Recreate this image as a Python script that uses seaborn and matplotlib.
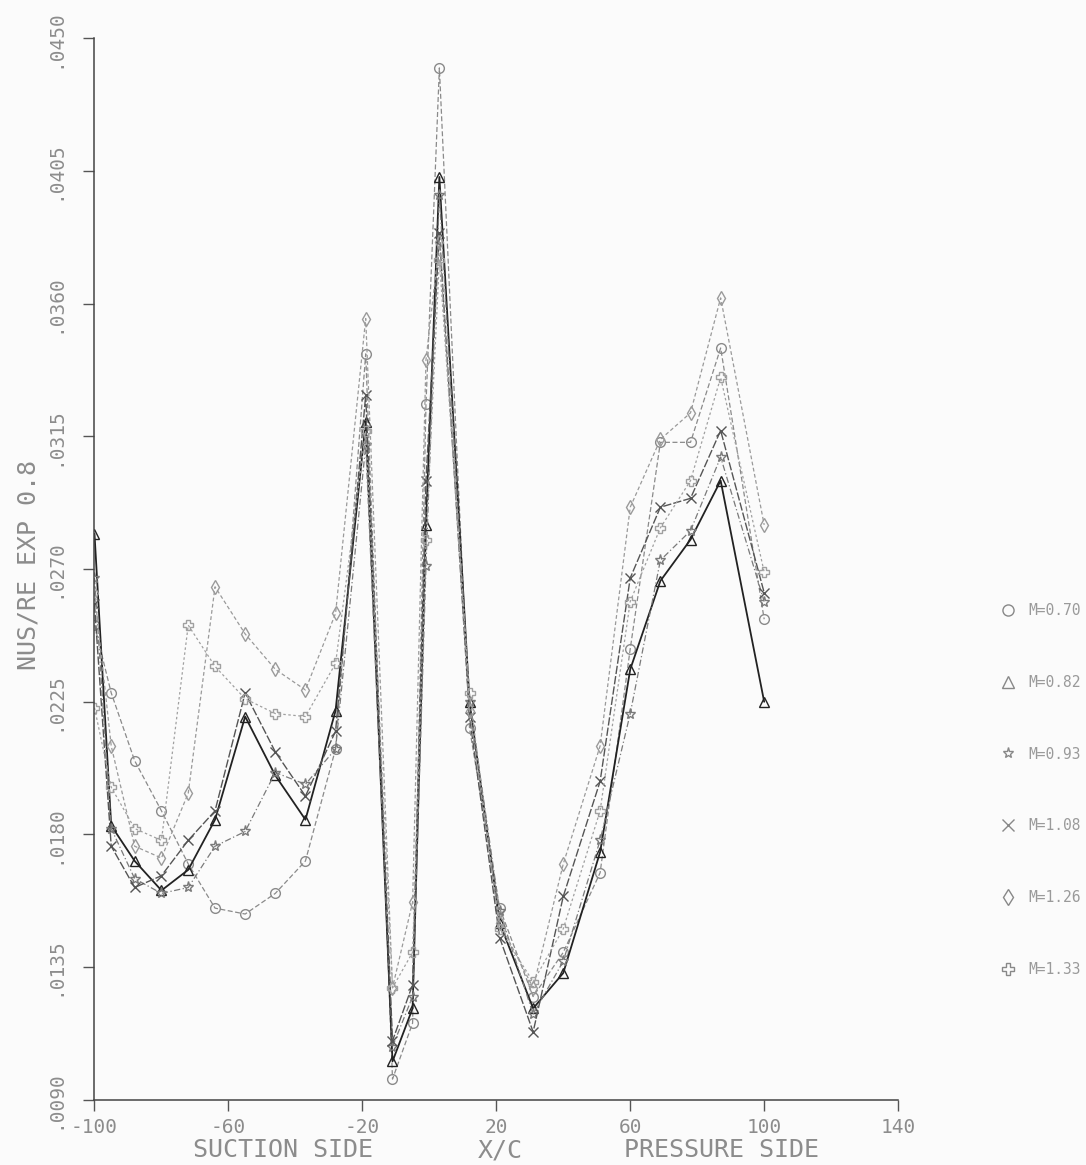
import numpy as np
import pandas as pd
import matplotlib
matplotlib.use("Agg")
import matplotlib.pyplot as plt
import seaborn as sns
from matplotlib.lines import Line2D

# ---------------- data ----------------
x_stations = [-100, -95, -88, -80, -72, -64, -55, -46, -37, -28, -19, -11, -5, -1, 3,
              12, 21, 31, 40, 51, 60, 69, 78, 87, 100]

m070 = [0.0251, 0.0228, 0.0205, 0.0188, 0.0170, 0.0155, 0.0153, 0.0160, 0.0171, 0.0209, 0.0343,
        0.0097, 0.0116, 0.0326, 0.0440, 0.0216, 0.0155, 0.0125, 0.0140, 0.0167, 0.0243, 0.0313,
        0.0313, 0.0345, 0.0253]
m082 = [0.0282, 0.0183, 0.0171, 0.0161, 0.0168, 0.0185, 0.0220, 0.0200, 0.0185, 0.0222, 0.0320,
        0.0103, 0.0121, 0.0285, 0.0403, 0.0225, 0.0150, 0.0121, 0.0133, 0.0174, 0.0236, 0.0266,
        0.0280, 0.0300, 0.0225]
m093 = [0.0267, 0.0182, 0.0165, 0.0160, 0.0162, 0.0176, 0.0181, 0.0201, 0.0197, 0.0209, 0.0312,
        0.0108, 0.0125, 0.0271, 0.0397, 0.0225, 0.0154, 0.0119, 0.0137, 0.0178, 0.0221, 0.0273,
        0.0283, 0.0308, 0.0259]
m108 = [0.0258, 0.0176, 0.0162, 0.0166, 0.0178, 0.0188, 0.0228, 0.0208, 0.0193, 0.0215, 0.0329,
        0.0110, 0.0129, 0.0300, 0.0384, 0.0220, 0.0145, 0.0113, 0.0159, 0.0198, 0.0267, 0.0291,
        0.0294, 0.0317, 0.0262]
m126 = [0.0262, 0.0210, 0.0176, 0.0172, 0.0194, 0.0264, 0.0248, 0.0236, 0.0229, 0.0255, 0.0355,
        0.0128, 0.0157, 0.0341, 0.0381, 0.0222, 0.0150, 0.0128, 0.0170, 0.0210, 0.0291, 0.0314,
        0.0323, 0.0362, 0.0285]
m133 = [0.0223, 0.0196, 0.0182, 0.0178, 0.0251, 0.0237, 0.0226, 0.0221, 0.0220, 0.0238, 0.0317,
        0.0128, 0.0140, 0.0280, 0.0375, 0.0228, 0.0148, 0.0130, 0.0148, 0.0188, 0.0259, 0.0284,
        0.0300, 0.0335, 0.0269]

labels = ["M=0.70", "M=0.82", "M=0.93", "M=1.08", "M=1.26", "M=1.33"]
series = [m070, m082, m093, m108, m126, m133]

x_ticks = [-100, -60, -20, 20, 60, 100, 140]
y_ticks = [0.0090, 0.0135, 0.0180, 0.0225, 0.0270, 0.0315, 0.0360, 0.0405, 0.0450]
y_tick_labels = [".0090", ".0135", ".0180", ".0225", ".0270", ".0315", ".0360", ".0405", ".0450"]

# ---------------- style ----------------
sns.set_style("white")
plt.rcParams['font.family'] = ['DejaVu Sans Mono', 'DejaVu Sans']

markers = ['o', '^', '*', 'x', 'd', 'P']
colors = ['#8a8a8a', '#222222', '#7a7a7a', '#555555', '#9a9a9a', '#a0a0a0']
dashes = [(0, (4, 2)), '-', (0, (5, 2, 1, 2)), (0, (6, 1.5)), (0, (3, 2)), (0, (2, 2))]
widths = [0.9, 1.3, 0.9, 1.0, 0.9, 0.9]

fig = plt.figure(figsize=(10.86, 11.65), dpi=100, facecolor='#fbfbfb')
ax = fig.add_axes([0.087, 0.056, 0.740, 0.911])
ax.set_facecolor('#fbfbfb')

df = pd.DataFrame({
    'x': np.tile(x_stations, len(series)),
    'y': np.concatenate(series),
    'M': np.repeat(labels, len(x_stations)),
})

for i, lab in enumerate(labels):
    sub = df[df['M'] == lab]
    sns.lineplot(data=sub, x='x', y='y', ax=ax, estimator=None, sort=False,
                 color=colors[i], linewidth=widths[i], linestyle=dashes[i],
                 marker=markers[i], markersize=7 if markers[i] != '*' else 8,
                 markerfacecolor='none', markeredgecolor=colors[i],
                 markeredgewidth=1.0, legend=False)

ax.set_xlim(-100, 140)
ax.set_ylim(0.0090, 0.0450)
ax.set_xticks(x_ticks)
ax.set_xticklabels([str(v) for v in x_ticks], fontsize=14, color='#8c8c8c')
ax.set_yticks(y_ticks)
ax.set_yticklabels(y_tick_labels, fontsize=14, color='#8c8c8c', rotation=90, va='center')
ax.tick_params(axis='both', direction='out', length=8, width=1, color='#555555',
               left=True, bottom=True)
ax.tick_params(axis='x', pad=5)
ax.tick_params(axis='y', pad=14)
for s in ['top', 'right']:
    ax.spines[s].set_visible(False)
for s in ['left', 'bottom']:
    ax.spines[s].set_color('#444444')
    ax.spines[s].set_linewidth(1.1)
ax.set_xlabel('')
ax.set_ylabel('')

# axis titles
fig.text(29 / 1086, 1 - 565 / 1165, "NUS/RE EXP 0.8", rotation=90, ha='center', va='center',
         fontsize=18, color='#8c8c8c')
fig.text(283 / 1086, 1 - 1150 / 1165, "SUCTION SIDE", ha='center', va='center',
         fontsize=18, color='#8c8c8c')
fig.text(500 / 1086, 1 - 1150 / 1165, "X/C", ha='center', va='center',
         fontsize=18, color='#8c8c8c')
fig.text(722 / 1086, 1 - 1150 / 1165, "PRESSURE SIDE", ha='center', va='center',
         fontsize=18, color='#8c8c8c')

# legend
handles = [Line2D([], [], linestyle='none', marker=markers[i], markersize=8,
                  markerfacecolor='none', markeredgecolor='#888888', markeredgewidth=1.0)
           for i in range(len(labels))]
leg = fig.legend(handles, labels, loc='center left',
                 bbox_to_anchor=(988 / 1086, 1 - 790 / 1165), frameon=False,
                 fontsize=10.5, labelspacing=3.9, handlelength=1.0, handletextpad=0.9)
for t in leg.get_texts():
    t.set_color('#9a9a9a')

fig.savefig('out.png', dpi=100, facecolor=fig.get_facecolor())
